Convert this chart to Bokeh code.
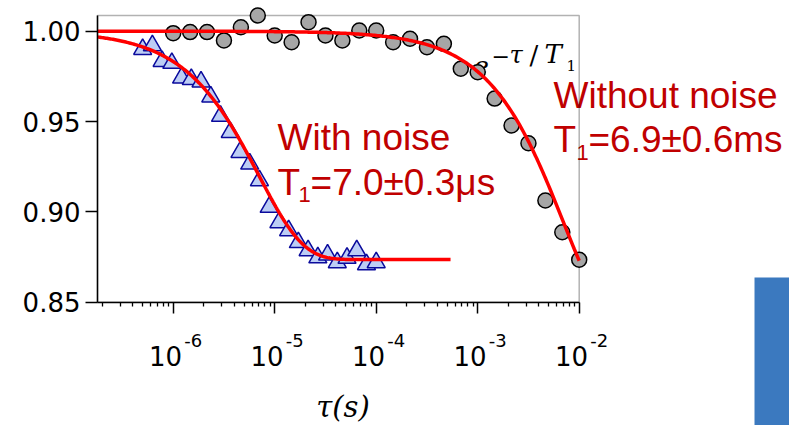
import numpy as np
from bokeh.plotting import figure
from bokeh.models import FixedTicker, Label, BoxAnnotation, PrintfTickFormatter, Range1d
from bokeh.embed import file_html
from bokeh.resources import INLINE

# ---------------- data ----------------
# without noise (grey circles)
tau_without = [1.000e-6, 1.468e-6, 2.154e-6, 3.162e-6, 4.642e-6, 6.813e-6,
               1.000e-5, 1.468e-5, 2.154e-5, 3.162e-5, 4.642e-5, 6.813e-5,
               1.000e-4, 1.468e-4, 2.154e-4, 3.162e-4, 4.642e-4, 6.813e-4,
               1.000e-3, 1.468e-3, 2.154e-3, 3.162e-3, 4.642e-3, 6.813e-3,
               1.000e-2]
sig_without = [0.9989, 0.9995, 0.9995, 0.9949, 1.0022, 1.0087, 0.9976, 0.9939,
               1.0050, 0.9976, 0.9949, 1.0004, 1.0004, 0.9939, 0.9958, 0.9911,
               0.9930, 0.9792, 0.9773, 0.9627, 0.9478, 0.9380, 0.9063, 0.8887,
               0.8735]

# with noise (blue triangles)
tau_with = [5.000e-7, 6.233e-7, 7.772e-7, 9.695e-7, 1.209e-6, 1.508e-6,
            1.880e-6, 2.345e-6, 2.924e-6, 3.646e-6, 4.547e-6, 5.670e-6,
            7.071e-6, 8.818e-6, 1.100e-5, 1.371e-5, 1.710e-5, 2.133e-5,
            2.660e-5, 3.317e-5, 4.136e-5, 5.158e-5, 6.432e-5, 8.021e-5,
            1.000e-4]
sig_with = [0.9900, 0.9921, 0.9834, 0.9823, 0.9742, 0.9734, 0.9720, 0.9637,
            0.9530, 0.9441, 0.9330, 0.9266, 0.9174, 0.9026, 0.8941, 0.8897,
            0.8831, 0.8786, 0.8747, 0.8762, 0.8720, 0.8744, 0.8786, 0.8709,
            0.8720]

# exponential fits  y = A + B*exp(-tau/T1)
fit_with = dict(A=0.8736, B=0.1264, T1=7.0e-6, tau_end=5.4e-4)
fit_without = dict(A=0.834, B=0.166, T1=6.9e-3, tau_end=1.0e-2)

y_ticks = [0.85, 0.90, 0.95, 1.00]
x_major = [1e-6, 1e-5, 1e-4, 1e-3, 1e-2]
x_exponents = ["-6", "-5", "-4", "-3", "-2"]
x_minor = [k * 10.0 ** n for n in range(-7, -2) for k in range(2, 10)]

# ---------------- figure ----------------
# axes box limits
x_lo, x_hi = 1.795e-7, 1e-2
y_lo, y_hi = 0.85, 1.0087
# visible canvas range (frame fills the whole canvas, axes are fixed inside)
vx0, vx1 = 1.988e-8, 1.180
vy0, vy1 = 0.78176, 1.01699

p = figure(width=789, height=425, x_axis_type="log", output_backend="svg",
           toolbar_location=None, x_range=Range1d(vx0, vx1),
           y_range=Range1d(vy0, vy1), min_border=0)
p.grid.visible = False
p.outline_line_color = None
p.background_fill_color = "white"
p.border_fill_color = "white"


def label(x, y, text, dx, dy, size, font, color="black", style="normal",
          align="left", level="annotation"):
    # dy is the wanted baseline offset; correct for the renderer's baseline shift
    p.add_layout(Label(x=x, y=y, text=text, x_offset=dx,
                       y_offset=dy + 0.35 * size, text_align=align,
                       text_baseline="alphabetic", text_font=font,
                       text_font_style=style, text_font_size=f"{size}px",
                       text_color=color, level=level))


# frame box
frame = BoxAnnotation(left=x_lo, right=x_hi, bottom=y_lo, top=y_hi,
                      fill_color=None, line_color="black", line_width=1.5,
                      level="underlay")

# y axis
ya = p.yaxis[0]
ya.fixed_location = x_lo
ya.ticker = FixedTicker(ticks=y_ticks)
ya.formatter = PrintfTickFormatter(format="%.2f")
ya.major_tick_out = 12
ya.major_tick_in = 0
ya.minor_tick_line_color = None
ya.major_label_text_font = "DejaVu Sans"
ya.major_label_text_font_size = "26px"
ya.major_label_text_color = "black"
ya.major_label_standoff = 5
ya.axis_line_width = 1.5
ya.major_tick_line_width = 1.5
ya.bounds = (y_lo, y_hi)

# x axis
xa = p.xaxis[0]
xa.fixed_location = y_lo
xa.ticker = FixedTicker(ticks=x_major, minor_ticks=x_minor)
xa.major_tick_out = 11
xa.major_tick_in = 0
xa.minor_tick_out = 4
xa.minor_tick_in = 0
xa.major_tick_line_width = 1.5
xa.minor_tick_line_width = 1.3
xa.axis_line_width = 1.5
xa.major_label_text_color = None
xa.bounds = (x_lo, x_hi)

for t, e in zip(x_major, x_exponents):
    label(t, y_lo, "10", -7.7, -63.3, 26, "DejaVu Sans", align="center")
    label(t, y_lo, e, 11, -45, 18, "DejaVu Sans")

label(4.71e-5, y_lo, "τ(s)", 0, -115, 29, "DejaVu Serif", style="italic",
      align="center")

# e^{-tau/T1} label (under the markers)
e_x, e_y = 9.09e-4, 0.9760
for txt, dx, dy, fs, st in [("e", 0, 0, 26, "italic"),
                            ("−", 18, 11, 22, "normal"),
                            ("τ", 36, 11, 24, "italic"),
                            ("/", 56, 10, 26, "normal"),
                            ("T", 71, 11, 26, "italic"),
                            ("1", 93, 4, 15, "normal")]:
    label(e_x, e_y, txt, dx, dy, fs, "DejaVu Serif", style=st, level="underlay")

red = "#C00000"
a1x, a1y = 1.066e-5, 0.93397
label(a1x, a1y, "With noise", 0, 0, 37, "Liberation Sans", red, level="underlay")
label(a1x, a1y, "T", 0, -45, 37, "Liberation Sans", red, level="underlay")
label(a1x, a1y, "1", 21, -52, 22, "Liberation Sans", red, level="underlay")
label(a1x, a1y, "=7.0±0.3μs", 33, -45, 37, "Liberation Sans", red, level="underlay")

a2x, a2y = 5.58e-3, 0.95721
label(a2x, a2y, "Without noise", 0, 0, 37, "Liberation Sans", red, level="underlay")
label(a2x, a2y, "T", 0, -44, 37, "Liberation Sans", red, level="underlay")
label(a2x, a2y, "1", 23, -52, 22, "Liberation Sans", red, level="underlay")
label(a2x, a2y, "=6.9±0.6ms", 35, -44, 37, "Liberation Sans", red, level="underlay")

p.add_layout(frame)

# markers
p.scatter(tau_without, sig_without, marker="circle", size=15,
          fill_color="#A6A6A6", line_color="black", line_width=1.5)
p.scatter(tau_with, sig_with, marker="triangle", size=18,
          fill_color="#BCCDF5", line_color="#0A0A9C", line_width=1.5)

# fit curves
for f in (fit_with, fit_without):
    t = np.logspace(np.log10(x_lo), np.log10(f["tau_end"]), 300)
    p.line(t, f["A"] + f["B"] * np.exp(-t / f["T1"]), line_color="#FF0000",
           line_width=3.5)

# blue block at the lower right
p.add_layout(BoxAnnotation(left=0.5335, right=10.0, bottom=0.70, top=0.86367,
                           fill_color="#3B79BF", fill_alpha=1.0,
                           line_color=None))

open("out.html", "w").write(file_html(p, INLINE))
